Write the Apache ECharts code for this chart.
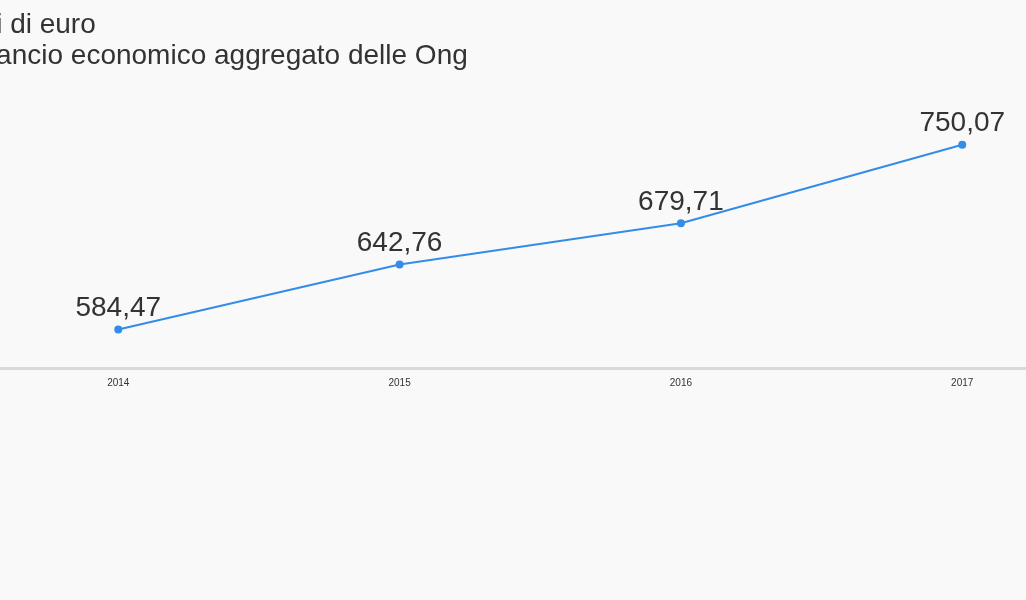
<!DOCTYPE html>
<html>
<head>
<meta charset="utf-8">
<script src="https://cdn.jsdelivr.net/npm/echarts@6/dist/echarts.min.js"></script>
<style>
html,body{margin:0;padding:0;background:#f9f9f9;}
#chart{width:1026px;height:600px;}
</style>
</head>
<body>
<div id="chart"></div>
<script>
const titleLine1 = "Milioni di euro";
const titleLine2 = "Bilancio economico aggregato delle Ong";
const categories = ["2014", "2015", "2016", "2017"];
const values = [584.47, 642.76, 679.71, 750.07];

const chart = echarts.init(document.getElementById('chart'));
const fmt = v => v.toFixed(2).replace('.', ',');
chart.setOption({
  backgroundColor: '#f9f9f9',
  animation: false,
  title: [
    {text: titleLine1, left: -77, top: 11, padding: 0,
     textStyle: {fontFamily: 'Liberation Sans, Arial, sans-serif', fontSize: 28, fontWeight: 'normal', color: '#333'}},
    {text: titleLine2, left: -35, top: 42, padding: 0,
     textStyle: {fontFamily: 'Liberation Sans, Arial, sans-serif', fontSize: 28, fontWeight: 'normal', color: '#333'}}
  ],
  grid: {left: -22.4, width: 1125.3, top: 89, bottom: 232, containLabel: false, outerBoundsMode: 'none'},
  xAxis: {
    type: 'category',
    data: categories,
    boundaryGap: true,
    axisLine: {lineStyle: {color: '#d9d9d9', width: 3}},
    axisTick: {show: false},
    axisLabel: {fontSize: 10, color: '#333', margin: 10, fontFamily: 'Liberation Sans, Arial, sans-serif'}
  },
  yAxis: {
    type: 'value', min: 550, max: 800, show: false,
    splitLine: {show: false}
  },
  series: [{
    type: 'line',
    data: values,
    symbol: 'circle',
    symbolSize: 8,
    lineStyle: {color: '#348ce9', width: 2},
    itemStyle: {color: '#348ce9'},
    label: {
      show: true, position: 'top', distance: 3,
      fontSize: 28, color: '#333', fontFamily: 'Liberation Sans, Arial, sans-serif',
      formatter: p => fmt(p.value)
    }
  }]
});
</script>
</body>
</html>
